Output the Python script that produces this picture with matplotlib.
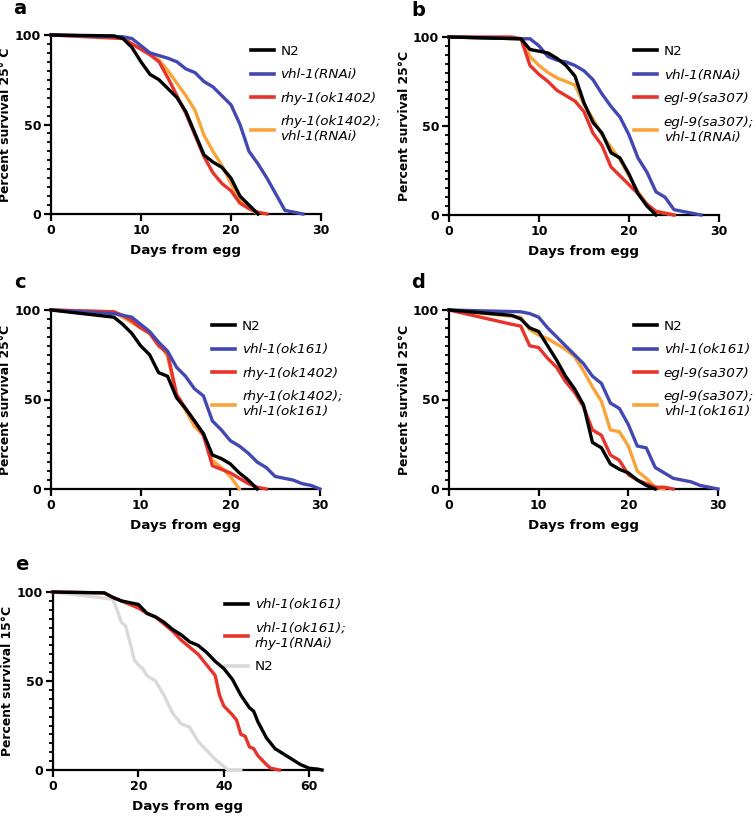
import numpy as np
import matplotlib.pyplot as plt
from matplotlib.ticker import MultipleLocator

plt.rcParams['font.family'] = ['DejaVu Sans']

BLACK = '#000000'
BLUE = '#4248b2'
RED = '#e8332b'
ORANGE = '#f8a43a'
GREY = '#d9d9d9'

# ---- panel a ----
a_n2_day = [0, 7, 8, 9, 10, 11, 12, 13, 14, 15, 16, 17, 18, 19, 20, 21, 22, 23]
a_n2_pct = [100, 99.5, 98, 93, 85, 78, 75, 70, 65, 57, 45, 33, 29, 26, 20, 10, 5, 0]
a_vhl_day = [0, 8, 9, 10, 11, 12, 13, 14, 15, 16, 17, 18, 19, 20, 21, 22, 23, 24, 25, 26, 27, 28]
a_vhl_pct = [100, 99, 98, 94, 90, 88.5, 87, 85, 81, 79, 74, 71, 66, 61, 50, 35, 28, 20, 11, 2, 1, 0]
a_rhy_day = [0, 8, 9, 10, 11, 12, 13, 14, 15, 16, 17, 18, 19, 20, 21, 22, 23, 24]
a_rhy_pct = [100, 98, 95, 92, 89, 85, 76, 66, 56, 44, 32, 23, 17, 13, 6, 3, 1, 0]
a_dbl_day = [0, 8, 9, 10, 11, 12, 13, 14, 15, 16, 17, 18, 19, 20, 21, 22, 23]
a_dbl_pct = [100, 99, 95, 92, 89, 86, 80, 73, 66, 58, 44, 35, 27, 17, 8, 3, 0]

# ---- panel b ----
b_n2_day = [0, 8, 9, 10, 11, 12, 13, 14, 15, 16, 17, 18, 19, 20, 21, 22, 23]
b_n2_pct = [100, 99, 93, 92, 91, 88, 84, 78, 63, 52, 46, 35, 32, 23, 12, 5, 0]
b_vhl_day = [0, 8, 9, 10, 11, 12, 13, 14, 15, 16, 17, 18, 19, 20, 21, 22, 23, 24, 25, 26, 27, 28]
b_vhl_pct = [100, 99, 99, 95, 89, 87, 86, 84, 81, 76, 68, 61, 55, 45, 32, 24, 13, 10, 3, 2, 1, 0]
b_egl_day = [0, 7, 8, 9, 10, 11, 12, 13, 14, 15, 16, 17, 18, 19, 20, 21, 22, 23, 24, 25]
b_egl_pct = [100, 100, 99, 84, 79, 75, 70, 67, 64, 58, 46, 39, 27, 22, 17, 12, 6, 2, 1, 0]
b_dbl_day = [0, 8, 9, 10, 11, 12, 13, 14, 15, 16, 17, 18, 19, 20, 21, 22, 23, 24, 25]
b_dbl_pct = [100, 99, 89, 84, 80, 77, 75, 73, 62, 54, 45, 38, 31, 22, 13, 6, 2, 1, 0]

# ---- panel c ----
c_n2_day = [0, 7, 8, 9, 10, 11, 12, 13, 14, 15, 16, 17, 18, 19, 20, 21, 22, 23]
c_n2_pct = [100, 96, 92, 87, 80, 75, 65, 63, 51, 45, 38, 31, 19, 17, 14, 9, 5, 0]
c_vhl_day = [0, 7, 8, 9, 10, 11, 12, 13, 14, 15, 16, 17, 18, 19, 20, 21, 22, 23, 24, 25, 26, 27, 28, 29, 30]
c_vhl_pct = [100, 98, 97, 96, 92, 88, 82, 77, 68, 63, 56, 52, 38, 33, 27, 24, 20, 15, 12, 7, 6, 5, 3, 2, 0]
c_rhy_day = [0, 7, 8, 9, 10, 11, 12, 13, 14, 15, 16, 17, 18, 19, 20, 21, 22, 23, 24]
c_rhy_pct = [100, 99, 97, 94, 90, 87, 80, 76, 53, 45, 38, 30, 13, 11, 9, 6, 3, 1, 0]
c_dbl_day = [0, 7, 8, 9, 10, 11, 12, 13, 14, 15, 16, 17, 18, 19, 20, 21]
c_dbl_pct = [100, 99, 96, 93, 90, 87, 82, 74, 52, 44, 35, 30, 16, 12, 7, 0]

# ---- panel d ----
d_n2_day = [0, 7, 8, 9, 10, 11, 12, 13, 14, 15, 16, 17, 18, 19, 20, 21, 22, 23]
d_n2_pct = [100, 97, 95, 90, 88, 80, 72, 63, 56, 47, 26, 23, 14, 11, 9, 5, 2, 0]
d_vhl_day = [0, 8, 9, 10, 11, 12, 13, 14, 15, 16, 17, 18, 19, 20, 21, 22, 23, 24, 25, 26, 27, 28, 29, 30]
d_vhl_pct = [100, 99, 98, 96, 90, 85, 80, 75, 70, 63, 59, 48, 45, 36, 24, 23, 12, 9, 6, 5, 4, 2, 1, 0]
d_egl_day = [0, 7, 8, 9, 10, 11, 12, 13, 14, 15, 16, 17, 18, 19, 20, 21, 22, 23, 24, 25]
d_egl_pct = [100, 92, 91, 80, 79, 73, 68, 60, 54, 46, 33, 30, 19, 16, 8, 5, 3, 1, 1, 0]
d_dbl_day = [0, 8, 9, 10, 11, 12, 13, 14, 15, 16, 17, 18, 19, 20, 21, 22, 23, 24]
d_dbl_pct = [100, 96, 89, 86, 84, 81, 78, 74, 66, 57, 49, 33, 32, 24, 10, 6, 1, 0]

# ---- panel e (15 C) ----
e_vhl_day = [0, 12, 14, 16, 18, 20, 22, 24, 26, 28, 30, 32, 34, 36, 38, 40, 42, 44, 46, 47,
             48, 50, 52, 54, 56, 58, 60, 62, 63]
e_vhl_pct = [100, 99.5, 97, 95, 94, 93, 88, 86, 83, 79, 76, 72, 70, 66, 61, 57, 51, 42, 35, 33,
             27, 18, 12, 9, 6, 3, 1, 0.5, 0]
e_rhy_day = [0, 12, 14, 16, 18, 20, 22, 24, 26, 28, 30, 32, 34, 36, 37, 38, 39, 40, 42, 43,
             44, 45, 46, 47, 48, 50, 51, 53]
e_rhy_pct = [100, 99.5, 97, 95, 93, 91, 88, 86, 82, 78, 73, 69, 65, 59, 56, 53, 42, 36, 31, 28,
             20, 19, 13, 12, 8, 3, 1, 0]
e_n2_day = [0, 14, 15, 16, 17, 18, 19, 20, 21, 22, 24, 26, 28, 30, 32, 34, 36, 38, 40, 41, 44]
e_n2_pct = [100, 96, 90, 83, 81, 72, 62, 59, 57, 53, 50, 42, 32, 26, 24, 16, 11, 6, 2, 0, 0]

panels = [
    dict(letter='a', rect=(51, 35, 321, 214), ylabel='Percent survival 25° C', xmax=30, xstep=10,
         series=[(a_n2_day, a_n2_pct, BLACK, 'N2'),
                 (a_vhl_day, a_vhl_pct, BLUE, 'vhl-1(RNAi)'),
                 (a_rhy_day, a_rhy_pct, RED, 'rhy-1(ok1402)'),
                 (a_dbl_day, a_dbl_pct, ORANGE, 'rhy-1(ok1402);\nvhl-1(RNAi)')],
         leg=(0.74, 0.945), ylab_x=12.5),
    dict(letter='b', rect=(449, 37, 719, 215), ylabel='Percent survival 25°C', xmax=30, xstep=10,
         series=[(b_n2_day, b_n2_pct, BLACK, 'N2'),
                 (b_vhl_day, b_vhl_pct, BLUE, 'vhl-1(RNAi)'),
                 (b_egl_day, b_egl_pct, RED, 'egl-9(sa307)'),
                 (b_dbl_day, b_dbl_pct, ORANGE, 'egl-9(sa307);\nvhl-1(RNAi)')],
         leg=(0.685, 0.955), ylab_x=411),
    dict(letter='c', rect=(51, 310, 320, 489), ylabel='Percent survival 25°C', xmax=30, xstep=10,
         series=[(c_n2_day, c_n2_pct, BLACK, 'N2'),
                 (c_vhl_day, c_vhl_pct, BLUE, 'vhl-1(ok161)'),
                 (c_rhy_day, c_rhy_pct, RED, 'rhy-1(ok1402)'),
                 (c_dbl_day, c_dbl_pct, ORANGE, 'rhy-1(ok1402);\nvhl-1(ok161)')],
         leg=(0.6, 0.945), ylab_x=12.5),
    dict(letter='d', rect=(449, 310, 718, 489), ylabel='Percent survival 25°C', xmax=30, xstep=10,
         series=[(d_n2_day, d_n2_pct, BLACK, 'N2'),
                 (d_vhl_day, d_vhl_pct, BLUE, 'vhl-1(ok161)'),
                 (d_egl_day, d_egl_pct, RED, 'egl-9(sa307)'),
                 (d_dbl_day, d_dbl_pct, ORANGE, 'egl-9(sa307);\nvhl-1(ok161)')],
         leg=(0.688, 0.945), ylab_x=411),
    dict(letter='e', rect=(53, 592, 322, 770), ylabel='Percent survival 15°C', xmax=63, xstep=20,
         series=[(e_vhl_day, e_vhl_pct, BLACK, 'vhl-1(ok161)'),
                 (e_rhy_day, e_rhy_pct, RED, 'vhl-1(ok161);\nrhy-1(RNAi)'),
                 (e_n2_day, e_n2_pct, GREY, 'N2')],
         leg=(0.64, 0.965), ylab_x=14),
]

W, H = 754, 819
fig = plt.figure(figsize=(W / 100, H / 100), dpi=100)

for p in panels:
    x0, y0, x1, y1 = p['rect']
    ax = fig.add_axes([x0 / W, 1 - y1 / H, (x1 - x0) / W, (y1 - y0) / H])
    for i, (d, s, c, lab) in enumerate(p['series']):
        ax.plot(d, s, color=c, lw=2.4, label=lab, clip_on=False, zorder=8 - i * 0.1,
                solid_joinstyle='round')
    ax.set_xlim(0, p['xmax'])
    ax.set_ylim(0, 100)
    ax.xaxis.set_major_locator(MultipleLocator(p['xstep']))
    ax.yaxis.set_major_locator(MultipleLocator(50))
    ax.yaxis.set_minor_locator(MultipleLocator(5))
    for side in ['top', 'right']:
        ax.spines[side].set_visible(False)
    for side in ['left', 'bottom']:
        ax.spines[side].set_linewidth(1.6)
    ax.tick_params(which='major', length=5, width=1.6, pad=2, labelsize=9)
    ax.tick_params(which='minor', length=3, width=1.3)
    ax.tick_params(axis='x', which='minor', length=0)
    for t in ax.get_xticklabels() + ax.get_yticklabels():
        t.set_fontweight('bold')
    ax.set_xlabel('Days from egg', fontsize=9.7, fontweight='bold', labelpad=5)
    ax.set_ylabel(p['ylabel'], fontsize=8.9, fontweight='bold')
    ax.yaxis.set_label_coords((p['ylab_x'] - x0) / (x1 - x0), 0.5)
    leg = ax.legend(loc='upper left', bbox_to_anchor=p['leg'], frameon=False, fontsize=9.7,
                    handlelength=1.7, handletextpad=0.5, labelspacing=0.78, borderpad=0,
                    borderaxespad=0)
    for t in leg.get_texts():
        if t.get_text() != 'N2':
            t.set_style('italic')
    for h in leg.get_lines():
        h.set_linewidth(2.6)
    fig.text((x0 - 31) / W, 1 - (y0 - 27) / H, p['letter'], fontsize=14, fontweight='bold',
             ha='center', va='center')

fig.savefig('out.png', dpi=100)
